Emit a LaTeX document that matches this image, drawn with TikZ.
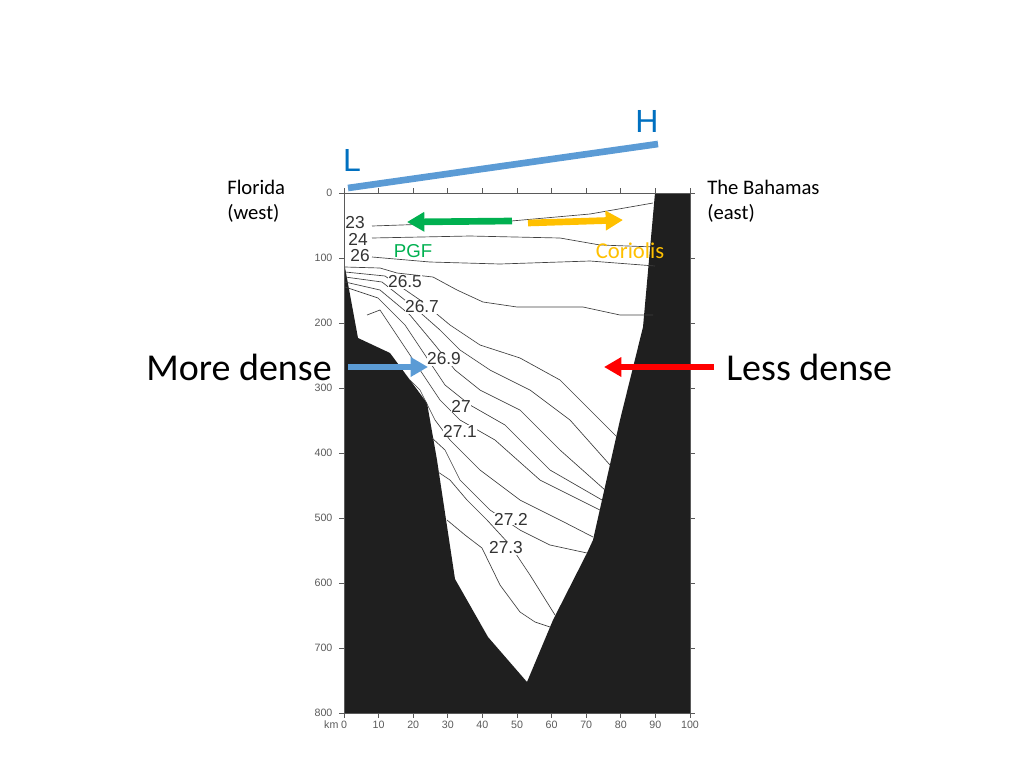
\documentclass[tikz,border=0pt]{standalone}
\usepackage{fontspec}
\setmainfont{Carlito}
\newfontfamily\plotfont{Liberation Sans}
\usetikzlibrary{arrows.meta}
\definecolor{slopeblue}{RGB}{91,155,213}
\definecolor{letterblue}{RGB}{0,112,192}
\definecolor{pgfgreen}{RGB}{0,176,80}
\definecolor{corgold}{RGB}{255,192,0}
\definecolor{axisgray}{RGB}{90,90,90}
\tikzstyle{isopyc}=[draw=black!75, line width=0.5pt]
\tikzstyle{isolabel}=[fill=white, inner sep=0.3pt, font=\plotfont\fontsize{13}{13}\selectfont, text=black!80]
\tikzstyle{ticklabel}=[font=\plotfont\fontsize{8}{8}\selectfont, text=axisgray, inner sep=1pt]
\tikzstyle{bigarrow}=[line width=5pt, -{Triangle[length=13pt,width=14pt]}]
\begin{document}
\begin{tikzpicture}[x=0.75pt, y=-0.75pt]
	\useasboundingbox (0,0) rectangle (1024,768);
	% sea floor
	\fill[black!88] (344,262)--(358,338)--(390,353)--(410,380)--(427,403)--(437,460)--(455,579)
		--(488,637)--(527,682)--(553,620)--(587,553)--(593,540)--(620,420)--(643,327)--(655,193)
		--(690,193)--(690,713)--(344,713)--cycle;
	% isopycnals
	\draw[isopyc] (372,226)--(430,224)--(500,222)--(590,214)--(653,203);
	\draw[isopyc] (372,238)--(470,236)--(560,238)--(600,245)--(655,247);
	\draw[isopyc] (372,257)--(430,262)--(500,264)--(590,261)--(655,266);
	\draw[isopyc] (345,267)--(380,268)--(397,273)--(433,277)--(457,290)--(483,302)--(517,307)--(583,307)--(620,315)--(653,315);
	\draw[isopyc] (345,272)--(385,276)--(420,300)--(450,325)--(480,345)--(520,358)--(560,380)--(590,410)--(617,437);
	\draw[isopyc] (345,277)--(382,282)--(415,308)--(440,330)--(460,350)--(490,370)--(530,390)--(570,420)--(610,465);
	\draw[isopyc] (345,282)--(380,290)--(410,315)--(435,345)--(455,370)--(480,390)--(520,410)--(560,450)--(605,490);
	\draw[isopyc] (345,287)--(378,298)--(405,325)--(425,355)--(445,385)--(470,405)--(505,425)--(550,470)--(602,500);
	\draw[isopyc] (367,315)--(380,310)--(400,340)--(420,370)--(440,400)--(460,420)--(495,440)--(540,480)--(600,510);
	\draw[isopyc] (410,380)--(420,390)--(435,420)--(450,440)--(480,470)--(520,500)--(560,520)--(593,537);
	\draw[isopyc] (432,438)--(445,450)--(460,480)--(490,510)--(520,530)--(550,545)--(587,553);
	\draw[isopyc] (438,472)--(450,480)--(467,500)--(487,520)--(510,545)--(530,575)--(555,615);
	\draw[isopyc] (447,520)--(465,535)--(482,548)--(500,585)--(520,612)--(535,622)--(550,627);
	% labels
	\node[isolabel] (c23) at (355,223) {23};
	\node[isolabel] (c24) at (358,239) {24};
	\node[isolabel] (c26) at (360,256) {26};
	\node[isolabel] (c265) at (405,282) {26.5};
	\node[isolabel] (c267) at (422,307) {26.7};
	\node[isolabel] (c269) at (444,359) {26.9};
	\node[isolabel] (c27) at (461,406) {27};
	\node[isolabel] (c271) at (460,431) {27.1};
	\node[isolabel] (c272) at (511,519) {27.2};
	\node[isolabel] (c273) at (506,548) {27.3};
	% frame and ticks
	\draw[axisgray, line width=0.6pt] (344,193) rectangle (690,713);
	\foreach \k in {0,10,...,100} {
		\draw[axisgray, line width=0.6pt] ({344+3.46*\k},193)--++(0,-5) ({344+3.46*\k},713)--++(0,5);
		\node[ticklabel, anchor=north] at ({344+3.46*\k},719) {\k};
	}
	\foreach \d in {0,100,...,800} {
		\draw[axisgray, line width=0.6pt] (344,{193+0.65*\d})--++(-5,0) (690,{193+0.65*\d})--++(5,0);
		\node[ticklabel, anchor=east] at (334,{193+0.65*\d}) {\d};
	}
	\node[ticklabel, anchor=north east] at (340,719) {km};
	% sea surface slope
	\coordinate (lowend) at (348,188);
	\coordinate (highend) at (658,144);
	\draw[slopeblue, line width=5pt] (lowend)--(highend);
	\node[text=letterblue, font=\plotfont\fontsize{24}{24}\selectfont] (L) at (352,160) {L};
	\node[text=letterblue, font=\plotfont\fontsize{24}{24}\selectfont] (H) at (647,121) {H};
	\node[font=\fontsize{15.5}{19}\selectfont, align=left, anchor=west, inner sep=0pt] (florida) at (227,201) {Florida\\(west)};
	\node[font=\fontsize{15.5}{19}\selectfont, align=left, anchor=west, inner sep=0pt] (bahamas) at (707,201) {The Bahamas\\(east)};
	% forces
	\coordinate (pgfstart) at (512,221);
	\coordinate (pgfend) at (407,222);
	\coordinate (corstart) at (528,223);
	\coordinate (corend) at (623,220);
	\draw[bigarrow, pgfgreen] (pgfstart)--(pgfend);
	\draw[bigarrow, corgold] (corstart)--(corend);
	\node[text=pgfgreen, font=\plotfont\fontsize{14}{14}\selectfont] (pgf) at (413,251) {PGF};
	\node[text=corgold, font=\fontsize{17}{17}\selectfont] (coriolis) at (630,251) {Coriolis};
	% density
	\node[font=\fontsize{28.5}{28}\selectfont, anchor=east, inner sep=0pt, text depth=0pt] (more) at (332,367) {More dense};
	\node[font=\fontsize{28.5}{28}\selectfont, anchor=west, inner sep=0pt, text depth=0pt] (less) at (726,367) {Less dense};
	\coordinate (morestart) at (348,367);
	\coordinate (moreend) at (428,367);
	\coordinate (lessstart) at (714,367);
	\coordinate (lessend) at (604,367);
	\draw[bigarrow, slopeblue] (morestart)--(moreend);
	\draw[bigarrow, red] (lessstart)--(lessend);
\end{tikzpicture}
\end{document}
